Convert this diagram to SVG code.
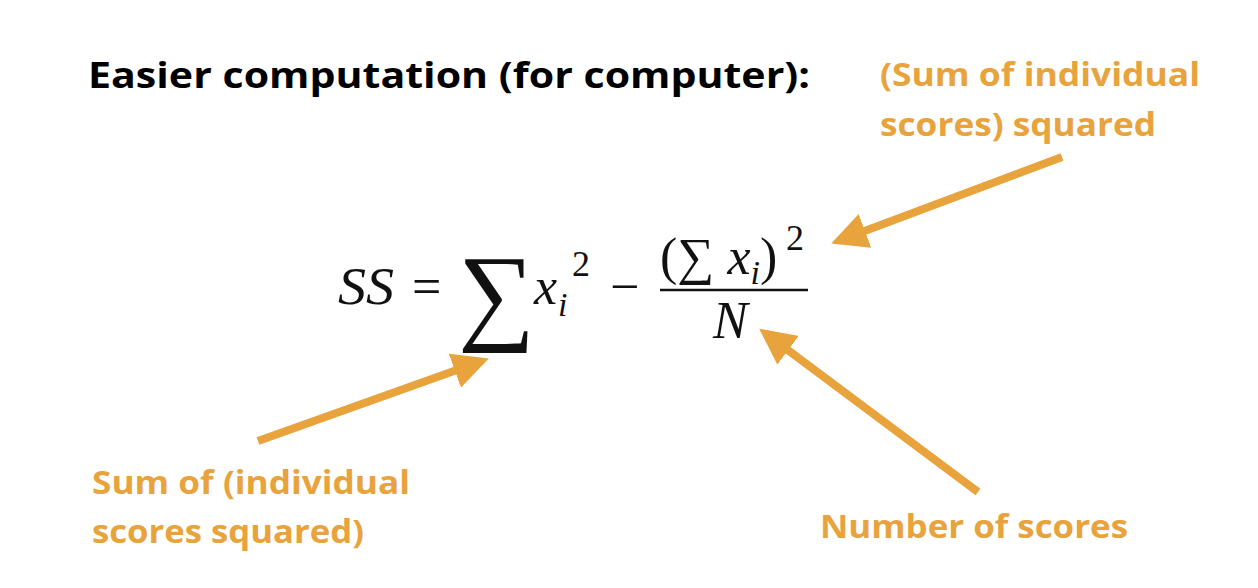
<svg xmlns="http://www.w3.org/2000/svg" width="1258" height="588" viewBox="0 0 1258 588">
<style>
.t{font-family:"Open Sans",Lato,sans-serif;font-weight:bold;font-size:33px}
.o{fill:#E8A33D}
.m{font-family:"Liberation Serif","DejaVu Serif",serif;font-size:52px;fill:#111}
.i{font-style:italic}
.a{stroke:#E8A33D;stroke-width:8;fill:none}
</style>
<defs><marker id="h" viewBox="0 0 10 10" refX="8" refY="5" markerWidth="4.5" markerHeight="4.5" orient="auto"><path d="M0,0L10,5L0,10z" fill="#E8A33D"/></marker></defs>
<rect width="1258" height="588" fill="#fff"/>
<g id="title"><text class="t" x="88" y="88" style="font-size:35px" textLength="722" lengthAdjust="spacingAndGlyphs">Easier computation (for computer):</text></g>
<g id="formula">
<text class="m i" x="338" y="304" textLength="56" lengthAdjust="spacingAndGlyphs">SS</text>
<text class="m" x="412" y="304">=</text>
<text class="m" x="458" y="330" style="font-size:108px">∑</text>
<text class="m i" x="534" y="304">x</text>
<text class="m i" x="558" y="316" style="font-size:34px">i</text>
<text class="m" x="572" y="276" style="font-size:36px">2</text>
<text class="m" x="610" y="304">−</text>
<text class="m" x="660" y="274">(∑ <tspan class="i">x</tspan><tspan class="i" style="font-size:34px" dy="10">i</tspan><tspan dy="-10">)</tspan></text>
<text class="m" x="786" y="250" style="font-size:36px">2</text>
<line x1="660" y1="290" x2="808" y2="290" stroke="#111" stroke-width="2.5"/>
<text class="m i" x="713" y="338">N</text>
</g>
<g id="label-top"><text class="t o" x="880" y="86" textLength="320" lengthAdjust="spacingAndGlyphs">(Sum of individual</text><text class="t o" x="880" y="136" textLength="276" lengthAdjust="spacingAndGlyphs">scores) squared</text></g>
<g id="label-left"><text class="t o" x="92" y="494" textLength="318" lengthAdjust="spacingAndGlyphs">Sum of (individual</text><text class="t o" x="92" y="543" textLength="272" lengthAdjust="spacingAndGlyphs">scores squared)</text></g>
<g id="label-right"><text class="t o" x="820" y="538" textLength="308" lengthAdjust="spacingAndGlyphs">Number of scores</text></g>
<g id="connectors">
<line class="a" x1="1062" y1="157" x2="838" y2="241" marker-end="url(#h)"/>
<line class="a" x1="258" y1="441" x2="482" y2="361" marker-end="url(#h)"/>
<line class="a" x1="978" y1="492" x2="765" y2="333" marker-end="url(#h)"/>
</g>
</svg>
